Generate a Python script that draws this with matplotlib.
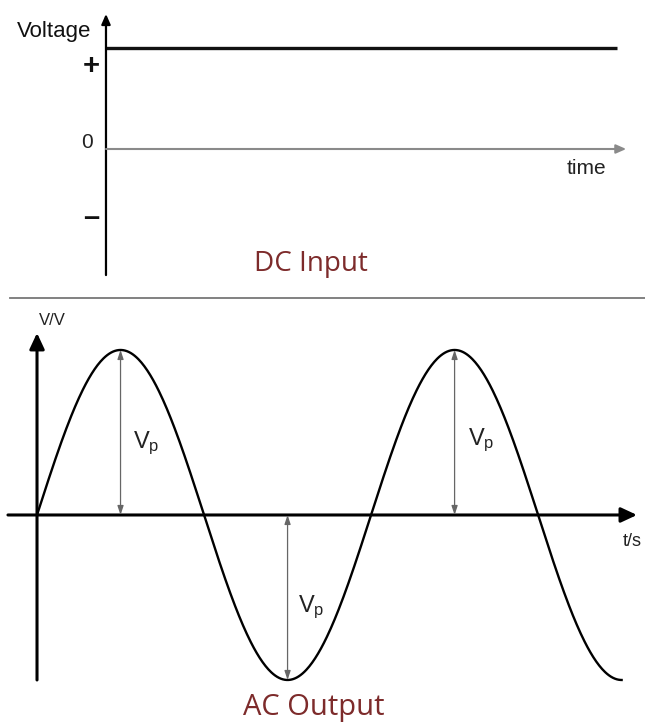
"""
DC input vs AC output diagram.
"""

import matplotlib
matplotlib.use("Agg")
import matplotlib.pyplot as plt
import numpy as np
from matplotlib.lines import Line2D

# --- data -------------------------------------------------------------
# top panel: constant DC voltage over time
dc_time = [0.0, 10.0]
dc_voltage = [1.0, 1.0]
dc_sign_labels = ["+", "0", "\u2013"]
dc_sign_levels = [0.82, 0.06, -0.68]

# bottom panel: sine output
ac_peak = 1.0          # V_p
ac_period = 1.0        # one cycle
ac_t_end = 1.75        # 1 3/4 cycles drawn
vp_times = [0.25, 0.75, 1.25]
vp_values = [1.0, -1.0, 1.0]
vp_label_pos = [(0.287, 0.436), (0.781, -0.558), (1.290, 0.455)]

LABEL_FONT = ["Liberation Sans", "DejaVu Sans"]
TITLE_FONT = ["Open Sans", "DejaVu Sans"]
TITLE_COLOR = "#7d2b2b"

fig = plt.figure(figsize=(6.45, 7.28), dpi=100)

# --- DC panel ---------------------------------------------------------
ax_dc = fig.add_axes([0, 430 / 728, 1, 298 / 728])
ax_dc.set_xlim(-2.074, 10.548)
ax_dc.set_ylim(-1.475, 1.475)
ax_dc.axis("off")

# voltage axis
ax_dc.annotate("", xy=(0, 1.337), xytext=(0, -1.248),
               arrowprops=dict(arrowstyle="-|>,head_length=0.5,head_width=0.22",
                               mutation_scale=12, color="black", lw=1.6,
                               shrinkA=0, shrinkB=0))
# zero / time axis
ax_dc.annotate("", xy=(10.18, 0), xytext=(0, 0),
               arrowprops=dict(arrowstyle="-|>,head_length=0.5,head_width=0.22",
                               mutation_scale=12, color="#8a8a8a", lw=1.5,
                               shrinkA=0, shrinkB=0))
ax_dc.plot(dc_time, dc_voltage, color="#111111", lw=2.4, solid_capstyle="butt")

ax_dc.text(-0.29, 1.16, "Voltage", ha="right", va="center",
           fontsize=16, family=LABEL_FONT, color="#111111")
for lab, lev in zip(dc_sign_labels, dc_sign_levels):
    if lab == "0":
        ax_dc.text(-0.37, lev, lab, ha="center", va="center",
                   fontsize=15, family=LABEL_FONT, color="#222222")
    else:
        ax_dc.text(-0.29, lev, lab, ha="center", va="center",
                   fontsize=21, family=LABEL_FONT, fontweight="bold",
                   color="#111111")
ax_dc.text(9.41, -0.19, "time", ha="center", va="center",
           fontsize=15, family=LABEL_FONT, color="#222222")
ax_dc.text(4.01, -1.14, "DC Input", ha="center", va="center",
           fontsize=20, family=TITLE_FONT, color=TITLE_COLOR)

# separator
fig.add_artist(Line2D([10 / 645, 1.0], [430 / 728, 430 / 728],
                      transform=fig.transFigure, color="#777777", lw=1.3))

# --- AC panel ---------------------------------------------------------
ax_ac = fig.add_axes([0, 0, 1, 430 / 728])
ax_ac.set_xlim(-0.1108, 1.820)
ax_ac.set_ylim(-1.291, 1.315)
ax_ac.axis("off")

axis_arrow = dict(arrowstyle="-|>,head_length=0.6,head_width=0.28",
                  mutation_scale=16, color="black", lw=2.2,
                  shrinkA=0, shrinkB=0)
ax_ac.annotate("", xy=(1.796, 0), xytext=(-0.087, 0), arrowprops=axis_arrow)
ax_ac.annotate("", xy=(0, 1.103), xytext=(0, -1.0), arrowprops=axis_arrow)

t = np.linspace(0, ac_t_end, 600)
ax_ac.plot(t, ac_peak * np.sin(2 * np.pi * t / ac_period),
           color="black", lw=1.7)

for tv, vv in zip(vp_times, vp_values):
    ax_ac.annotate("", xy=(tv, vv), xytext=(tv, 0),
                   arrowprops=dict(arrowstyle="<|-|>,head_length=0.6,head_width=0.2",
                                   mutation_scale=9, color="#666666", lw=0.9,
                                   shrinkA=0, shrinkB=0))
for (tx, vy) in vp_label_pos:
    ax_ac.text(tx, vy, r"$\mathregular{V_{p}}$", ha="left", va="center",
               fontsize=17, family=LABEL_FONT, color="#222222")

ax_ac.text(0.045, 1.176, "V/V", ha="center", va="center",
           fontsize=12, family=LABEL_FONT, color="#222222")
ax_ac.text(1.781, -0.158, "t/s", ha="center", va="center",
           fontsize=13, family=LABEL_FONT, color="#222222")
ax_ac.text(0.829, -1.164, "AC Output", ha="center", va="center",
           fontsize=21, family=TITLE_FONT, color=TITLE_COLOR)

fig.savefig("out.png", dpi=100)
